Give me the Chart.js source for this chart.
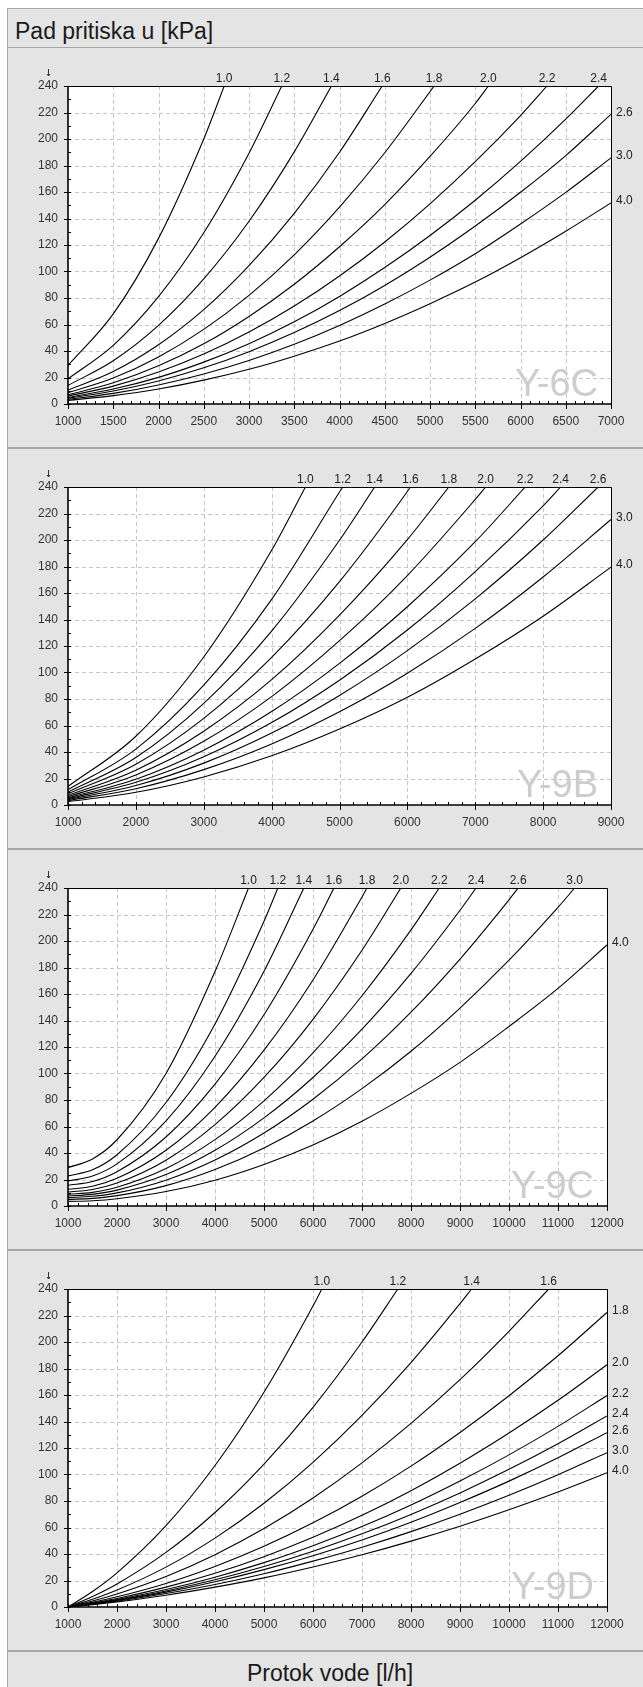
<!DOCTYPE html>
<html>
<head>
<meta charset="utf-8">
<script src="https://cdn.jsdelivr.net/npm/chart.js@4.4.1/dist/chart.umd.min.js"></script>
<style>
  html, body { margin:0; padding:0; background:#fff; }
  body { width:643px; height:1687px; overflow:hidden; position:relative; font-family:"Liberation Sans", Arial, sans-serif; }
  #box { position:absolute; left:7px; top:8px; width:720px; height:1700px; background:#e4e4e4; border-left:1px solid #a8a8a8; border-top:1px solid #a8a8a8; }
  .sep { position:absolute; left:8px; width:700px; background:#a6a6a6; }
  .title { position:absolute; left:15px; top:20px; font-size:23px; line-height:23px; color:#1a1a1a; white-space:nowrap; }
  .foot { position:absolute; left:230px; width:200px; text-align:center; top:1662px; font-size:23px; line-height:23px; color:#1a1a1a; white-space:nowrap; }
  canvas { position:absolute; left:8px; }
</style>
</head>
<body>
<div id="box"></div>
<div class="title">Pad pritiska u [kPa]</div>
<div class="sep" style="top:47px;height:1px"></div>
<canvas id="c1" width="635" height="399" style="top:48px;width:635px;height:399px"></canvas>
<div class="sep" style="top:447px;height:2px"></div>
<canvas id="c2" width="635" height="399" style="top:449px;width:635px;height:399px"></canvas>
<div class="sep" style="top:848px;height:2px"></div>
<canvas id="c3" width="635" height="399" style="top:850px;width:635px;height:399px"></canvas>
<div class="sep" style="top:1249px;height:2px"></div>
<canvas id="c4" width="635" height="399" style="top:1251px;width:635px;height:399px"></canvas>
<div class="sep" style="top:1650px;height:2px"></div>
<div class="foot">Protok vode [l/h]</div>
<script>
// ---------------- DATA ----------------
const seriesNames = ['1.0','1.2','1.4','1.6','1.8','2.0','2.2','2.4','2.6','3.0','4.0'];
const pressureTicks = [0,20,40,60,80,100,120,140,160,180,200,220,240];

// Y-6C
const flowY6C  = [1000,1500,2000,2500,3000,3500,4000,4500,5000,5500,6000,6500,7000];
const ticksY6C = [1000,1500,2000,2500,3000,3500,4000,4500,5000,5500,6000,6500,7000];
const dpY6C = [
  [29,68,125,200],
  [19,44.3,81,129.2,189.3],
  [14,32.6,59.3,94.4,137.9,190.3],
  [10.5,24.5,44.7,71.2,104.4,143.9,190],
  [8.5,19.6,35.5,56.3,82,112.6,148.6,189.6],
  [7,16,28.8,45.4,66.1,90.4,118.7,150.5,186.8,226.8],
  [6,13.5,24.1,37.7,54.3,73.9,96.6,122.3,151.1,182.9,217.7],
  [5,11.3,20.1,31.6,45.5,62,81.2,103,127.2,153.8,183.1,215],
  [4.3,9.8,17.4,27.3,39.5,53.9,70.5,89.5,110.8,134.3,159.8,187.5,218.6],
  [3.5,8,14.4,22.7,32.9,45.1,59.3,75.5,93.5,113.4,135.8,159.7,185.8],
  [2.7,6.3,11.3,18,26.2,36.1,47.5,60.8,75.7,92,110.4,130.4,151.8]
];
const topY6C = [2726,3362,3911,4472,5046,5645,6293,6863,null,null,null];

// Y-9B
const flowY9B  = [1000,2000,3000,4000,5000,6000,7000,8000,9000];
const ticksY9B = [1000,2000,3000,4000,5000,6000,7000,8000,9000];
const dpY9B = [
  [14,51.9,111.7,192.2],
  [11.5,42.2,90.4,155.2,236.2],
  [9.8,35.9,76.7,131.3,199.8],
  [8.5,30.8,65.4,111.4,168.6,236.6],
  [7.3,26.3,55.7,94.6,143.3,200.3],
  [6.3,22.7,48.1,81.8,124,173.2,230.6],
  [5.4,19.5,41.4,70.5,106.9,149.6,198.7],
  [4.7,17.1,36.4,62.2,94.2,132.1,176.2,225.8],
  [4.0,14.7,31.6,54.3,82.7,116.5,155.6,200],
  [3.3,12.3,26.7,46.1,70.4,99.5,133.3,172.1,215.5],
  [2.5,9.6,21.2,37.1,57.3,81.3,110.2,142.5,179.5]
];
const topY9B = [4498,5047,5518,6045,6611,7154,7736,8257,8811,null,null];

// Y-9C
const flowY9C  = [1000,1500,2000,3000,4000,5000,6000,7000,8000,9000,10000,11000,12000];
const ticksY9C = [1000,2000,3000,4000,5000,6000,7000,8000,9000,10000,11000,12000];
const dpY9C = [
  [29,35.5,50,100,177],
  [22.7,27.3,38.7,78.1,137.4,214.9],
  [18.9,22.6,31.8,64.2,113,177.1],
  [15.6,18.5,25.9,52.1,92,144.4,208.9],
  [12.6,14.9,20.9,42.1,74.5,117.6,170.6,233.2],
  [10.6,12.5,17.3,34.6,61.4,97,140.9,193],
  [8.8,10.3,14.2,28.3,50.1,79.4,115.6,158.7,208.4],
  [7.6,8.8,12,23.7,42,66.5,97,133.4,175.5,223.2],
  [6.3,7.3,9.9,19.5,34.7,55.1,80.6,111,146.3,186.4,231.1],
  [5,5.75,7.8,15.4,27.5,43.8,64.2,88.6,116.8,149.4,185.5,225.4],
  [3.5,4.0,5.5,10.9,19.5,31.4,46.1,64,85,108.4,135.5,164.2,197]
];
const topY9C = [4684,5283,5813,6427,7102,7793,8576,9328,10188,11340,null];

// Y-9D
const flowY9D  = [1000,1500,2000,3000,4000,5000,6000,7000,8000,9000,10000,11000,12000];
const ticksY9D = [1000,2000,3000,4000,5000,6000,7000,8000,9000,10000,11000,12000];
const dpY9D = [
  [0,11.7,25.8,61.4,106.8,162.1,227.2],
  [0,7.9,17.4,41.2,71.3,107.9,150.7,200],
  [0,5.8,12.8,30.1,52,78.3,109.2,144.6,184.5,228.9],
  [0,4.5,9.8,23,39.5,59.2,82.3,108.8,138.6,171.6,208.1],
  [0,3.5,7.7,17.8,30.6,45.8,63.5,83.6,106.3,131.7,159.4,189.6,222.3],
  [0,3,6.4,15,25.5,38,52.6,69.2,87.8,108.5,131.3,156,182.8],
  [0,2.6,5.7,13.2,22.5,33.5,46.3,60.7,77,95.1,114.8,136.3,159.6],
  [0,2.5,5.3,12.1,20.5,30.5,42.1,55.2,69.9,86.1,103.9,123.2,144.2],
  [0,2.3,4.9,11.2,19,28.2,38.7,50.6,64,78.9,95,112.6,131.6],
  [0,2.1,4.4,10.2,17,25.1,34.6,45.1,56.9,70,84.3,99.8,116.5],
  [0,1.8,3.9,8.9,15,22,30.2,39.4,49.7,61,73.4,86.8,101.3]
];
const topY9D = [6181,7732,9237,10810,null,null,null,null,null,null,null];

// ---------------- RENDER ----------------
const FONT = '"Liberation Sans", Arial, sans-serif';

function buildDatasets(flow, dp, top) {
  return dp.map((vals, i) => {
    const pts = vals.map((v, j) => ({ x: flow[j], y: v }));
    if (top[i] != null) pts.push({ x: top[i], y: 240 });
    return {
      label: seriesNames[i],
      data: pts,
      showLine: true,
      borderColor: '#000',
      borderWidth: 1.1,
      pointRadius: 0,
      pointHoverRadius: 0,
      cubicInterpolationMode: 'monotone',
      fill: false
    };
  });
}

const panelPlugin = {
  id: 'panelDeco',
  beforeDraw(chart, args, o) {
    const { ctx, chartArea: a, width, height } = chart;
    const xs = chart.scales.x, ys = chart.scales.y;
    ctx.save();
    ctx.fillStyle = '#e4e4e4';
    ctx.fillRect(0, 0, width, height);
    ctx.fillStyle = '#ffffff';
    ctx.fillRect(a.left, a.top, a.right - a.left, a.bottom - a.top);
    ctx.strokeStyle = '#c6c6c6';
    ctx.lineWidth = 1;
    ctx.setLineDash([4, 3]);
    xs.ticks.forEach(t => {
      if (t.value <= xs.min || t.value >= xs.max) return;
      const px = Math.round(xs.getPixelForValue(t.value)) + 0.5;
      ctx.beginPath(); ctx.moveTo(px, a.top); ctx.lineTo(px, a.bottom); ctx.stroke();
    });
    ys.ticks.forEach(t => {
      if (t.value <= ys.min || t.value >= ys.max) return;
      const py = Math.round(ys.getPixelForValue(t.value)) + 0.5;
      ctx.beginPath(); ctx.moveTo(a.left, py); ctx.lineTo(a.right, py); ctx.stroke();
    });
    ctx.setLineDash([]);
    ctx.font = '38px ' + FONT;
    ctx.fillStyle = '#cdcdcd';
    ctx.textAlign = 'right';
    ctx.textBaseline = 'alphabetic';
    ctx.fillText(o.mark, a.right - 13, a.bottom - 8);
    ctx.restore();
  },
  afterDatasetsDraw(chart, args, o) {
    const { ctx, chartArea: a } = chart;
    const xs = chart.scales.x, ys = chart.scales.y;
    ctx.save();
    ctx.strokeStyle = '#000';
    ctx.lineWidth = 1;
    const rx = Math.round(a.right) + 0.5, ty = Math.round(a.top) + 0.5;
    ctx.beginPath(); ctx.moveTo(a.left, ty); ctx.lineTo(rx, ty); ctx.lineTo(rx, a.bottom); ctx.stroke();
    ctx.lineWidth = 1.6;
    const lx = Math.round(a.left), by = Math.round(a.bottom);
    ctx.beginPath(); ctx.moveTo(lx, a.top); ctx.lineTo(lx, by); ctx.lineTo(rx + 0.5, by); ctx.stroke();
    ctx.lineWidth = 1;
    const majorX = xs.ticks.map(t => t.value);
    xs.ticks.forEach(t => {
      const px = Math.round(xs.getPixelForValue(t.value)) + 0.5;
      ctx.beginPath(); ctx.moveTo(px, by - 3); ctx.lineTo(px, by + 5); ctx.stroke();
    });
    for (let v = xs.min; v <= xs.max + 1e-6; v += o.minorX) {
      if (majorX.includes(v)) continue;
      const px = Math.round(xs.getPixelForValue(v)) + 0.5;
      ctx.beginPath(); ctx.moveTo(px, by - 3); ctx.lineTo(px, by); ctx.stroke();
    }
    ys.ticks.forEach(t => {
      const py = Math.round(ys.getPixelForValue(t.value)) + 0.5;
      ctx.beginPath(); ctx.moveTo(lx - 4, py); ctx.lineTo(lx + 3, py); ctx.stroke();
    });
    for (let v = 10; v < 240; v += 20) {
      const py = Math.round(ys.getPixelForValue(v)) + 0.5;
      ctx.beginPath(); ctx.moveTo(lx, py); ctx.lineTo(lx + 3, py); ctx.stroke();
    }
    ctx.strokeStyle = '#333';
    ctx.beginPath(); ctx.moveTo(40.5, a.top - 17); ctx.lineTo(40.5, a.top - 10); ctx.stroke();
    ctx.beginPath(); ctx.moveTo(39, a.top - 12); ctx.lineTo(40.5, a.top - 10); ctx.lineTo(42, a.top - 12); ctx.stroke();
    ctx.fillStyle = '#222';
    ctx.font = '12px ' + FONT;
    o.top.forEach((tx, i) => {
      if (tx != null) {
        ctx.textAlign = 'center';
        ctx.textBaseline = 'alphabetic';
        ctx.fillText(seriesNames[i], xs.getPixelForValue(tx), a.top - 4);
      } else {
        const vals = o.dp[i];
        ctx.textAlign = 'left';
        ctx.textBaseline = 'middle';
        ctx.fillText(seriesNames[i], a.right + 5, ys.getPixelForValue(vals[vals.length - 1]) - 2);
      }
    });
    ctx.restore();
  }
};

function makePanel(id, mark, flow, ticks, dp, top, minorX, rightPad) {
  const xMin = ticks[0], xMax = ticks[ticks.length - 1];
  new Chart(document.getElementById(id), {
    type: 'scatter',
    data: { datasets: buildDatasets(flow, dp, top) },
    options: {
      responsive: false,
      animation: false,
      devicePixelRatio: 1,
      events: [],
      layout: { padding: { left: 0, right: rightPad, top: 38, bottom: 0 } },
      plugins: {
        legend: { display: false },
        tooltip: { enabled: false },
        panelDeco: { mark, top, dp, minorX }
      },
      scales: {
        x: {
          type: 'linear', min: xMin, max: xMax,
          afterBuildTicks: s => { s.ticks = ticks.map(v => ({ value: v })); },
          afterFit: s => { s.height = 43; },
          grid: { display: false, drawTicks: false },
          border: { display: false },
          ticks: { color: '#333', font: { family: FONT, size: 12 }, padding: 10, maxRotation: 0, autoSkip: false, callback: v => String(v) }
        },
        y: {
          type: 'linear', min: 0, max: 240,
          afterBuildTicks: s => { s.ticks = pressureTicks.map(v => ({ value: v })); },
          afterFit: s => { s.width = 60; },
          grid: { display: false, drawTicks: false },
          border: { display: false },
          ticks: { color: '#333', font: { family: FONT, size: 12 }, padding: 10, autoSkip: false, callback: v => String(v) }
        }
      }
    },
    plugins: [panelPlugin]
  });
}

makePanel('c1', 'Y-6C', flowY6C, ticksY6C, dpY6C, topY6C, 100, 32);
makePanel('c2', 'Y-9B', flowY9B, ticksY9B, dpY9B, topY9B, 200, 32);
makePanel('c3', 'Y-9C', flowY9C, ticksY9C, dpY9C, topY9C, 200, 36);
makePanel('c4', 'Y-9D', flowY9D, ticksY9D, dpY9D, topY9D, 200, 36);
</script>
</body>
</html>
